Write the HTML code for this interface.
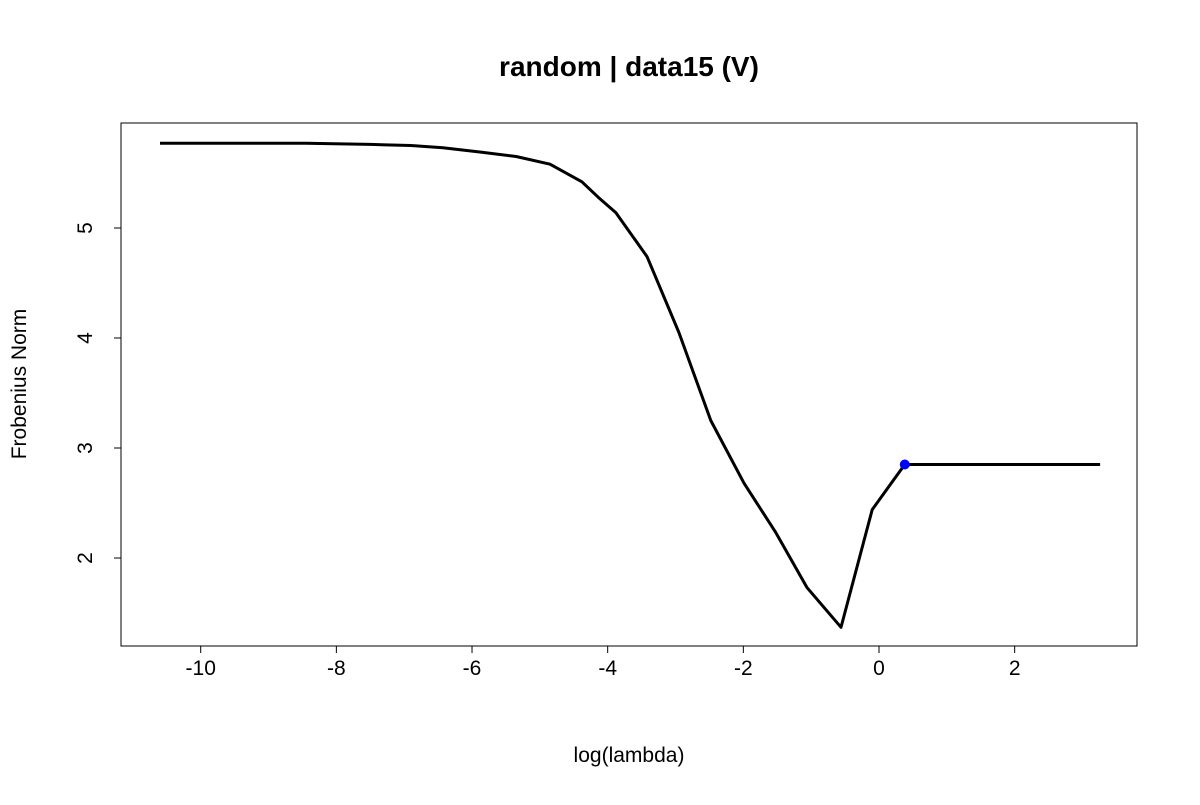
<!DOCTYPE html>
<html><head><meta charset="utf-8"><style>
body{margin:0;background:#fff;}
svg text{font-family:"Liberation Sans",Arial,sans-serif;fill:#000;}
</style></head><body>
<svg id="chart" width="1200" height="800" viewBox="0 0 1200 800">
<rect x="0" y="0" width="1200" height="800" fill="#fff"/>
<text x="629" y="76" font-size="28" font-weight="bold" text-anchor="middle">random | data15 (V)</text>
<rect x="121" y="123" width="1016" height="523" fill="none" stroke="#000" stroke-width="1"/>
<g id="xaxis"></g>
<g id="yaxis"></g>
<text x="629" y="762" font-size="21" text-anchor="middle">log(lambda)</text>
<text transform="translate(26,384) rotate(-90)" font-size="21" text-anchor="middle">Frobenius Norm</text>
<g id="series"></g>
</svg>
<script>
const xTicks=[-10,-8,-6,-4,-2,0,2];
const yTicks=[2,3,4,5];
const xVals=[-10.60,-8.45,-7.50,-6.90,-6.43,-5.87,-5.35,-4.85,-4.38,-4.14,-3.88,-3.42,-2.95,-2.48,-1.99,-1.52,-1.06,-0.56,-0.10,0.38,3.26];
const yVals=[5.77,5.77,5.76,5.75,5.73,5.69,5.65,5.58,5.42,5.28,5.14,4.74,4.05,3.25,2.68,2.23,1.73,1.37,2.44,2.85,2.85];
const selected=[0.38,2.85];

const NS="http://www.w3.org/2000/svg";
function sx(v){return 879+v*67.83;}
function sy(v){return 778-v*110;}
function mk(tag,attrs,parent){const e=document.createElementNS(NS,tag);for(const k in attrs)e.setAttribute(k,attrs[k]);parent.appendChild(e);return e;}
const xa=document.getElementById('xaxis'),ya=document.getElementById('yaxis'),se=document.getElementById('series');
mk('line',{x1:sx(xTicks[0]),x2:sx(xTicks[xTicks.length-1]),y1:646,y2:646,stroke:'#000'},xa);
xTicks.forEach(t=>{
  const l=mk('line',{x1:sx(t),x2:sx(t),y1:646,y2:653,stroke:'#000'},xa);
  
  
  const tx=mk('text',{x:sx(t),y:675,'font-size':21,'text-anchor':'middle'},xa);
  tx.textContent=t;
  
  
});
mk('line',{x1:121,x2:121,y1:sy(yTicks[0]),y2:sy(yTicks[yTicks.length-1]),stroke:'#000'},ya);
yTicks.forEach(t=>{
  const l=mk('line',{x1:114,x2:121,y1:sy(t),y2:sy(t),stroke:'#000'},ya);
  
  
  const tx=mk('text',{transform:`translate(92,${sy(t)}) rotate(-90)`,'font-size':21,'text-anchor':'middle'},ya);
  tx.textContent=t;
  
  
});
const pts=xVals.map((x,i)=>sx(x)+','+sy(yVals[i])).join(' ');
const pl=mk('polyline',{points:pts,fill:'none',stroke:'#000','stroke-width':3,'stroke-linejoin':'round'},se);


const c=mk('circle',{cx:sx(selected[0]),cy:sy(selected[1]),r:5,fill:'#0000ff'},se);


</script>
</body></html>
